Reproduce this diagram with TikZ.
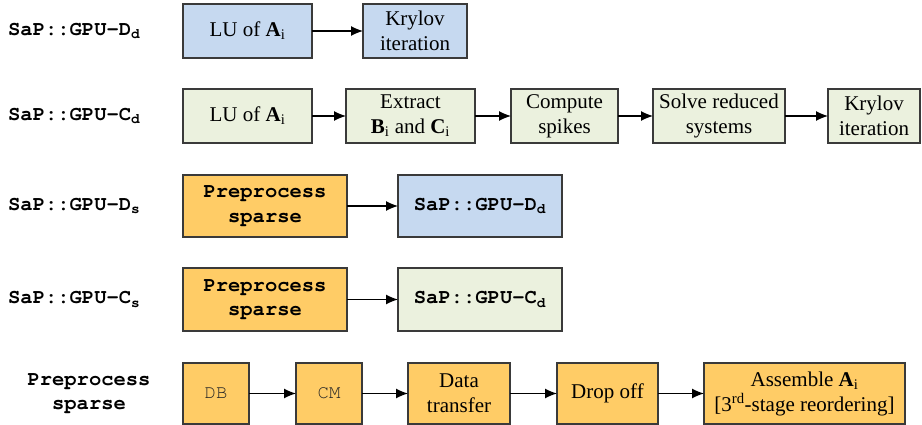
\documentclass[tikz,border=0pt]{standalone}
\usepackage{fontspec}
\setmainfont{Liberation Serif}
\setmonofont{TeX Gyre Cursor}
\usetikzlibrary{arrows.meta}
\definecolor{bluefill}{HTML}{C6D9F0}
\definecolor{greenfill}{HTML}{EBF1DE}
\definecolor{orangefill}{HTML}{FFCC66}
\definecolor{edge}{HTML}{3A3A3A}
\tikzset{
  box/.style={draw=edge, line width=1.1pt, rectangle, inner sep=0pt, outer sep=0pt,
    align=center, font=\fontsize{21}{25}\selectfont},
  bbox/.style={box, fill=bluefill},
  gbox/.style={box, fill=greenfill},
  obox/.style={box, fill=orangefill},
  monob/.style={font=\fontsize{20.5}{24.5}\selectfont\ttfamily\bfseries},
  lbl/.style={inner sep=0pt, anchor=west, monob},
  conn/.style={line width=1.2pt, -{Latex[length=12pt,width=10pt]}},
}
\newcommand{\sapname}[2]{SaP::GPU-#1\textsubscript{#2}}
\begin{document}
\begin{tikzpicture}[x=1pt,y=-1pt]
\useasboundingbox (0,0) rectangle (922,425);
% row 1
\node[lbl] (l1) at (8,31) {\sapname{D}{d}};
\node[bbox, minimum width=129pt, minimum height=54pt] (lu1) at (247.5,31) {LU of \textbf{A}\textsubscript{i}};
\node[bbox, minimum width=104pt, minimum height=54pt] (kr1) at (415,31) {Krylov\\iteration};
\draw[conn] (lu1) -- (kr1);
% row 2
\node[lbl] (l2) at (8,116) {\sapname{C}{d}};
\node[gbox, minimum width=129pt, minimum height=54pt] (lu2) at (247.5,116) {LU of \textbf{A}\textsubscript{i}};
\node[gbox, minimum width=129pt, minimum height=54pt] (ex2) at (410.5,116) {Extract\\\textbf{B}\textsubscript{i} and \textbf{C}\textsubscript{i}};
\node[gbox, minimum width=107pt, minimum height=54pt] (cs2) at (564.5,116) {Compute\\spikes};
\node[gbox, minimum width=132pt, minimum height=54pt] (sr2) at (719,116) {Solve reduced\\systems};
\node[gbox, minimum width=92pt, minimum height=54pt] (kr2) at (874,116) {Krylov\\iteration};
\draw[conn] (lu2) -- (ex2);
\draw[conn] (ex2) -- (cs2);
\draw[conn] (cs2) -- (sr2);
\draw[conn] (sr2) -- (kr2);
% row 3
\node[lbl] (l3) at (8,206) {\sapname{D}{s}};
\node[obox, minimum width=164pt, minimum height=62pt, monob] (pp3) at (265,206) {Preprocess\\sparse};
\node[bbox, minimum width=164pt, minimum height=62pt, monob] (dd3) at (480,206) {\sapname{D}{d}};
\draw[conn] (pp3) -- (dd3);
% row 4
\node[lbl] (l4) at (8,299.5) {\sapname{C}{s}};
\node[obox, minimum width=164pt, minimum height=63pt, monob] (pp4) at (265,299.5) {Preprocess\\sparse};
\node[gbox, minimum width=164pt, minimum height=63pt, monob] (cd4) at (480,299.5) {\sapname{C}{d}};
\draw[conn] (pp4) -- (cd4);
% row 5
\node[lbl, anchor=center, align=center] (l5) at (89,393.5) {Preprocess\\sparse};
\node[obox, minimum width=66pt, minimum height=61pt, font=\fontsize{19}{23}\selectfont\ttfamily, text=black!85] (db) at (216,393.5) {DB};
\node[obox, minimum width=66pt, minimum height=61pt, font=\fontsize{19}{23}\selectfont\ttfamily, text=black!85] (cm) at (329,393.5) {CM};
\node[obox, minimum width=102pt, minimum height=61pt] (dt) at (459,393.5) {Data\\transfer};
\node[obox, minimum width=101pt, minimum height=61pt] (do) at (607.5,393.5) {Drop off};
\node[obox, minimum width=201pt, minimum height=61pt] (as) at (804.5,393.5) {Assemble \textbf{A}\textsubscript{i}\\{[}3\textsuperscript{rd}-stage reordering{]}};
\draw[conn] (db) -- (cm);
\draw[conn] (cm) -- (dt);
\draw[conn] (dt) -- (do);
\draw[conn] (do) -- (as);
\end{tikzpicture}
\end{document}
